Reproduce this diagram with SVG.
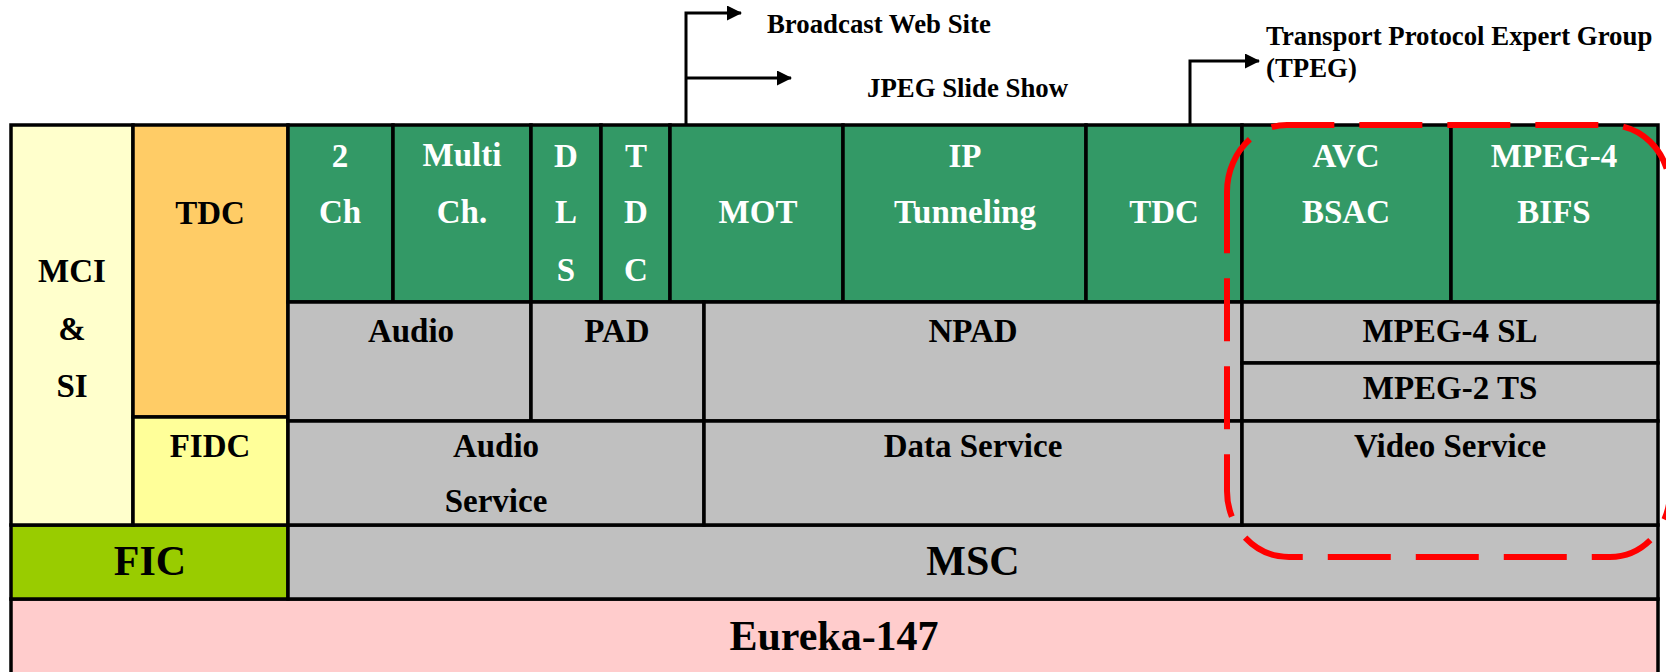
<svg xmlns="http://www.w3.org/2000/svg" width="1666" height="672" viewBox="0 0 1666 672">
<defs>
<marker id="ah" viewBox="0 0 15 15" refX="14" refY="7.5" markerWidth="15" markerHeight="15" markerUnits="userSpaceOnUse" orient="auto">
<path d="M0,0 L15,7.5 L0,15 Z" fill="#000"/>
</marker>
<style>
rect{stroke:#000;stroke-width:3.5}
.cream{fill:#FFFFCC}.orange{fill:#FFCC66}.yellow{fill:#FFFF99}
.green{fill:#339966}.gray{fill:#C0C0C0}.lime{fill:#99CC00}.pink{fill:#FFCCCC}
text{font-family:"Liberation Serif","Times New Roman",serif;font-weight:bold;text-anchor:middle;font-size:33px;fill:#000}
.w{fill:#fff}
.big{font-size:42px}
.lbl{font-size:26.8px;text-anchor:start}
.conn{fill:none;stroke:#000;stroke-width:3}
</style>
</defs>
<rect x="0" y="0" width="1666" height="672" fill="#fff" style="stroke:none"/>

<g id="eureka"><rect class="pink" x="11" y="599" width="1647" height="90"/><text class="big" x="834" y="650">Eureka-147</text></g>
<g id="fic"><rect class="lime" x="11" y="525" width="277" height="74"/><text class="big" x="150" y="575">FIC</text></g>
<g id="msc"><rect class="gray" x="288" y="525" width="1370" height="74"/><text class="big" x="973" y="575">MSC</text></g>

<g id="mci"><rect class="cream" x="11" y="125" width="122" height="400"/><text x="72" y="282">MCI</text><text x="72" y="340">&amp;</text><text x="72" y="397">SI</text></g>
<g id="tdc-fic"><rect class="orange" x="133" y="125" width="155" height="292"/><text x="210" y="224">TDC</text></g>
<g id="fidc"><rect class="yellow" x="133" y="417" width="155" height="108"/><text x="210" y="457">FIDC</text></g>

<g id="ch2"><rect class="green" x="288" y="125" width="105" height="177"/><text class="w" x="340" y="167">2</text><text class="w" x="340" y="223">Ch</text></g>
<g id="multich"><rect class="green" x="393" y="125" width="138" height="177"/><text class="w" x="462" y="166">Multi</text><text class="w" x="462" y="223">Ch.</text></g>
<g id="dls"><rect class="green" x="531" y="125" width="70" height="177"/><text class="w" x="566" y="167">D</text><text class="w" x="566" y="223">L</text><text class="w" x="566" y="281">S</text></g>
<g id="tdc-pad"><rect class="green" x="601" y="125" width="69" height="177"/><text class="w" x="636" y="167">T</text><text class="w" x="636" y="223">D</text><text class="w" x="636" y="281">C</text></g>
<g id="mot"><rect class="green" x="670" y="125" width="173" height="177"/><text class="w" x="758" y="223">MOT</text></g>
<g id="ip"><rect class="green" x="843" y="125" width="243" height="177"/><text class="w" x="965" y="167">IP</text><text class="w" x="965" y="223">Tunneling</text></g>
<g id="tdc-npad"><rect class="green" x="1086" y="125" width="156" height="177"/><text class="w" x="1164" y="223">TDC</text></g>
<g id="avc"><rect class="green" x="1242" y="125" width="209" height="177"/><text class="w" x="1346" y="167">AVC</text><text class="w" x="1346" y="223">BSAC</text></g>
<g id="bifs"><rect class="green" x="1451" y="125" width="207" height="177"/><text class="w" x="1554" y="167">MPEG-4</text><text class="w" x="1554" y="223">BIFS</text></g>

<g id="audio"><rect class="gray" x="288" y="302" width="243" height="119"/><text x="411" y="342">Audio</text></g>
<g id="pad"><rect class="gray" x="531" y="302" width="173" height="119"/><text x="617" y="342">PAD</text></g>
<g id="npad"><rect class="gray" x="704" y="302" width="538" height="119"/><text x="973" y="342">NPAD</text></g>
<g id="sl"><rect class="gray" x="1242" y="302" width="416" height="61"/><text x="1450" y="342">MPEG-4 SL</text></g>
<g id="ts"><rect class="gray" x="1242" y="363" width="416" height="58"/><text x="1450" y="399">MPEG-2 TS</text></g>

<g id="audio-service"><rect class="gray" x="288" y="421" width="416" height="104"/><text x="496" y="457">Audio</text><text x="496" y="512">Service</text></g>
<g id="data-service"><rect class="gray" x="704" y="421" width="538" height="104"/><text x="973" y="457">Data Service</text></g>
<g id="video-service"><rect class="gray" x="1242" y="421" width="416" height="104"/><text x="1450" y="457">Video Service</text></g>

<g id="connectors">
<path class="conn" d="M686,125 L686,13 L741,13" marker-end="url(#ah)"/>
<path class="conn" d="M686,78 L791,78" marker-end="url(#ah)"/>
<path class="conn" d="M1190,125 L1190,61 L1259,61" marker-end="url(#ah)"/>
</g>

<g id="labels">
<text class="lbl" x="767" y="33">Broadcast Web Site</text>
<text class="lbl" x="867" y="97">JPEG Slide Show</text>
<text class="lbl" x="1266" y="45">Transport Protocol Expert Group</text>
<text class="lbl" x="1266" y="77">(TPEG)</text>
</g>

<g id="highlight">
<path d="M1227,192 A60,67 0 0 1 1287,125 L1610,125 A60,65 0 0 1 1670,190 L1670,492 A60,65 0 0 1 1610,557 L1289,557 A62,66 0 0 1 1227,491 Z" fill="none" stroke="#FF0000" stroke-width="6" stroke-dasharray="63 25" stroke-dashoffset="4"/>
</g>
</svg>
